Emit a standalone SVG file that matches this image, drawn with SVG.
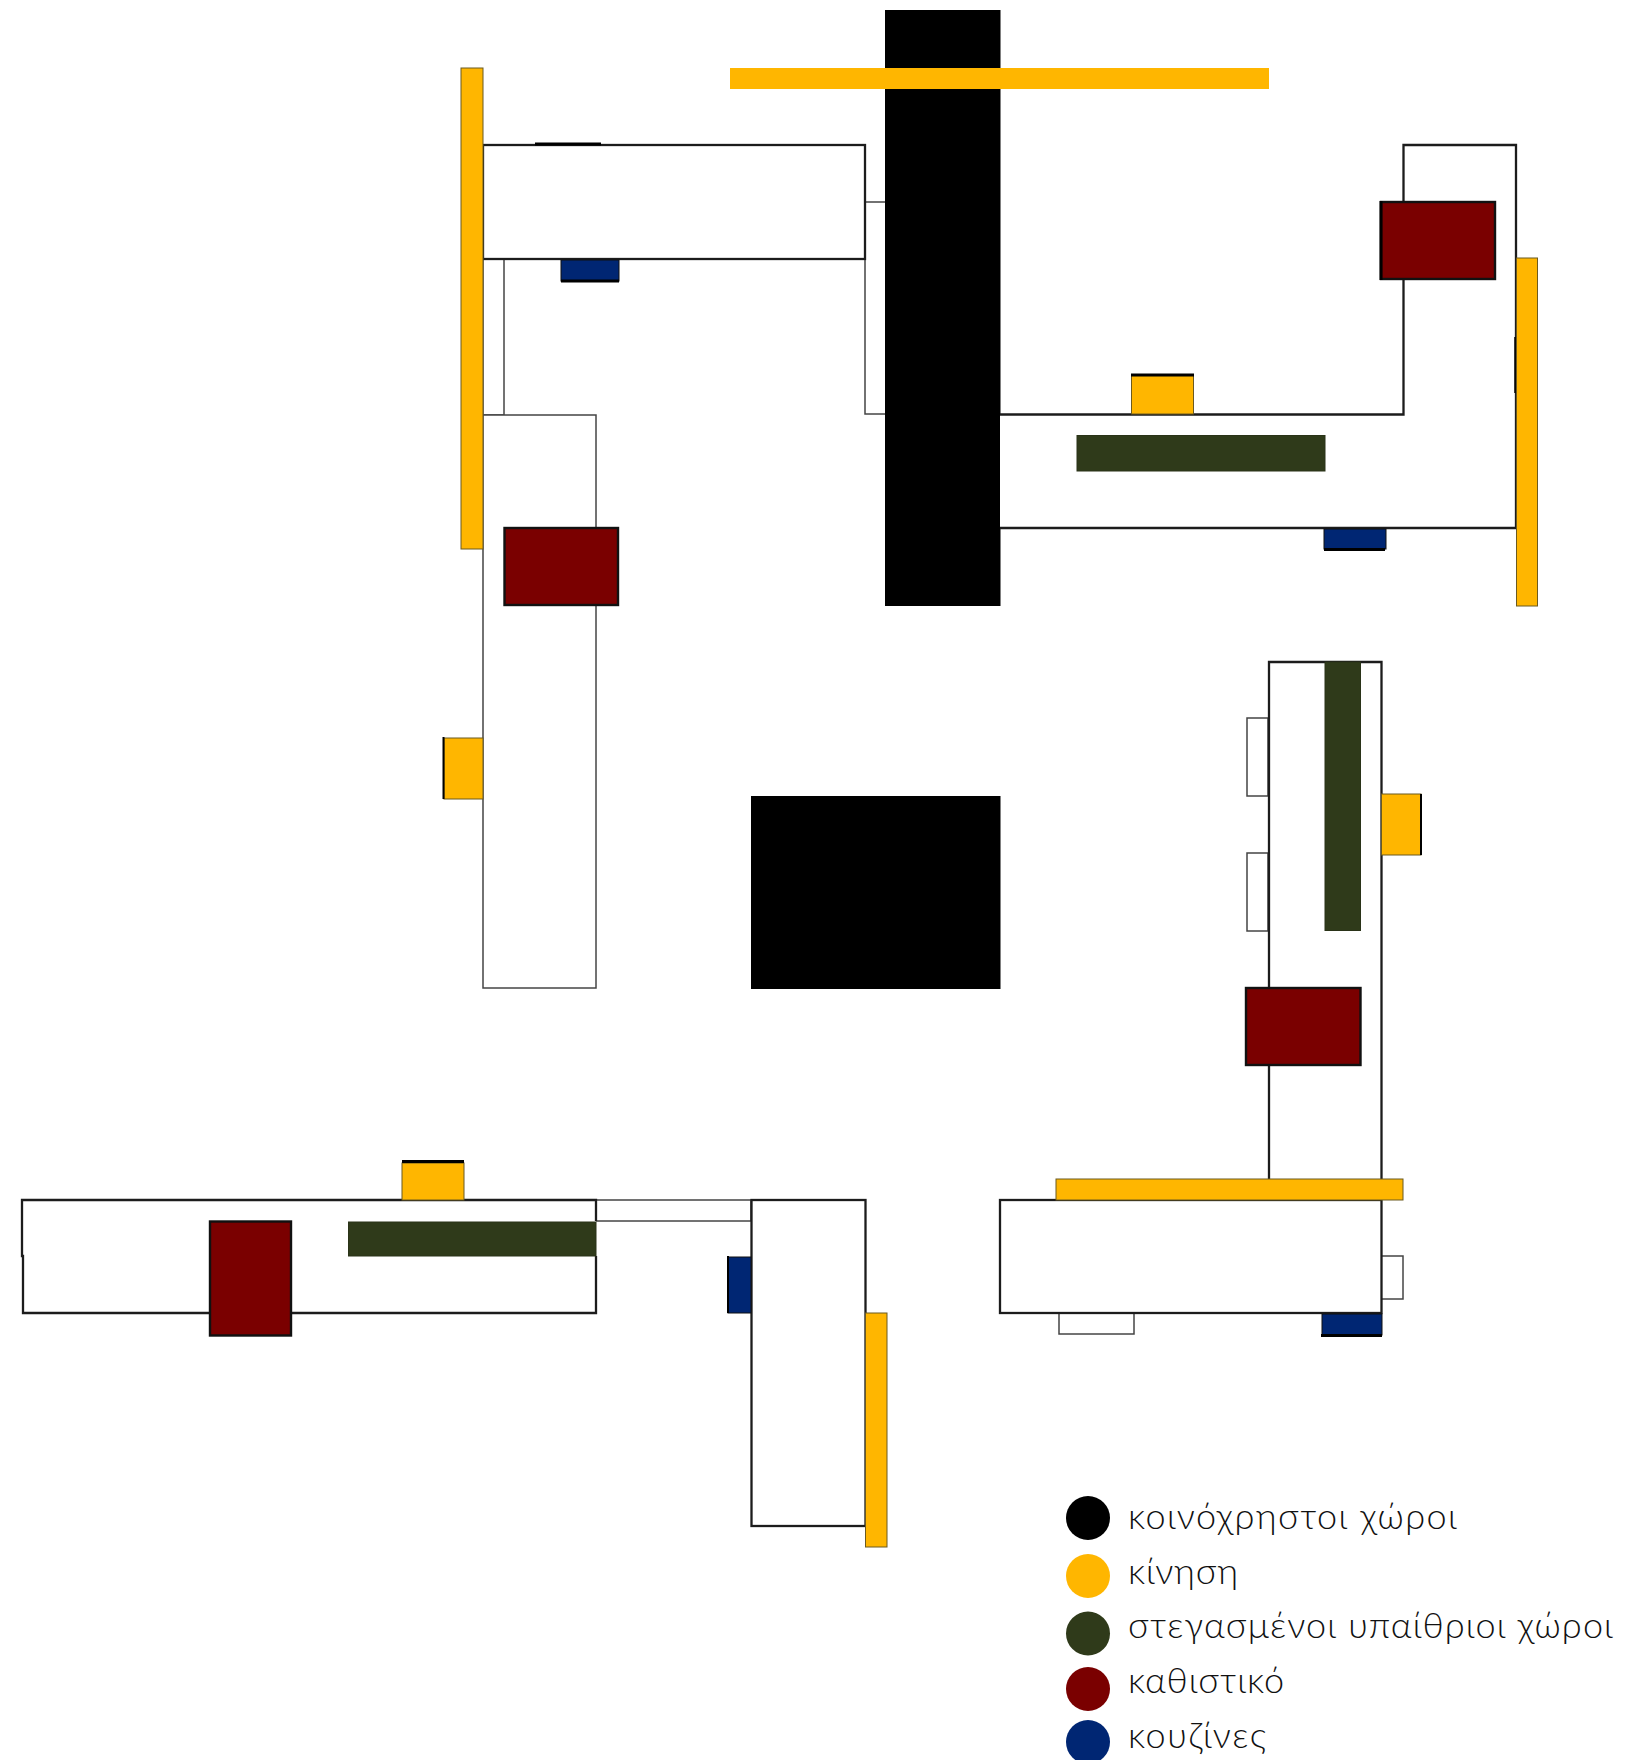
<svg xmlns="http://www.w3.org/2000/svg" width="1649" height="1760" viewBox="0 0 1649 1760">
<style>
.room{fill:#fff;stroke:#1c1c1c;stroke-width:2.3}
.win{fill:#fff;stroke:#444;stroke-width:1.5}
.or{fill:#ffb600;stroke:#6b5a20;stroke-width:1}
.gr{fill:#2f3a1a;stroke:#2a3318;stroke-width:1}
.rd{fill:#7a0000;stroke:#111;stroke-width:2.4}
.bl{fill:#002673;stroke:#111;stroke-width:1}
.bk{fill:#000}
.e{stroke:#000;stroke-width:3;fill:none}
.t{font-family:"Lato","Open Sans","Noto Sans",sans-serif;font-weight:300;font-size:36px;fill:#111}
</style>
<rect width="1649" height="1760" fill="#fff"/>
<g id="bloc-nw">
<rect class="win" x="483" y="259" width="21" height="156"/>
<rect class="win" x="865" y="202" width="21" height="212"/>
<rect class="room" x="483" y="145" width="382" height="114"/>
<rect class="win" x="483" y="415" width="113" height="573"/>
<path class="e" d="M535 144H601"/>
<rect id="nw-kitchen" class="bl" x="561" y="260" width="58" height="21"/><path class="e" d="M561 281H619"/>
<rect id="nw-stair" class="or" x="461" y="68" width="22" height="481"/>
<rect id="nw-living" class="rd" x="504.500" y="528" width="113.500" height="77"/>
<rect id="nw-entry" class="or" x="444" y="738" width="39" height="61"/><path class="e" style="stroke-width:2" d="M443.500 737V799"/>
</g>
<g id="core-n"><rect class="bk" x="885" y="10" width="115.500" height="596"/></g>
<g id="top-bar"><rect x="730" y="68" width="539" height="21" fill="#ffb600"/></g>
<g id="core-c"><rect class="bk" x="751" y="796" width="249.500" height="193"/></g>
<g id="bloc-ne">
<path class="room" d="M1000 414.500H1403.500V145H1516V528H1000"/>
<rect id="ne-entry" class="or" x="1131.500" y="375" width="62" height="39"/><path class="e" d="M1131 375H1194"/>
<rect id="ne-terrace" class="gr" x="1077" y="435.500" width="248" height="35.500"/>
<rect id="ne-kitchen" class="bl" x="1324" y="529" width="62" height="20"/><path class="e" d="M1324 549.500H1385"/>
<rect id="ne-living" class="rd" x="1381" y="202" width="114" height="77"/><path class="e" d="M1381 201V280"/>
<path class="e" style="stroke-width:1.500" d="M1515 337V393"/>
<rect id="ne-stair" class="or" x="1516.500" y="258" width="21" height="348"/>
</g>
<g id="bloc-se">
<rect class="win" x="1247" y="718" width="21" height="78"/>
<rect class="win" x="1247" y="853" width="21" height="78"/>
<path class="room" d="M1269 1179V662H1381.500V1179"/>
<rect id="se-terrace" class="gr" x="1325" y="662" width="35.500" height="268.500"/>
<rect id="se-entry" class="or" x="1381.500" y="794" width="39.500" height="61"/><path class="e" style="stroke-width:2" d="M1421 794V855"/>
<rect id="se-living" class="rd" x="1246" y="988" width="114.500" height="77"/>
<rect class="win" x="1381" y="1256" width="22" height="43"/>
<rect class="win" x="1059" y="1313" width="75" height="21"/>
<rect class="room" x="1000" y="1200" width="381.500" height="113"/>
<rect id="se-kitchen" class="bl" x="1322" y="1314" width="60" height="21"/><path class="e" d="M1321 1335.500H1382"/>
<rect id="se-stair" class="or" x="1056" y="1179" width="347" height="21"/>
</g>
<g id="bloc-sw">
<rect class="win" x="596" y="1200" width="155" height="21"/>
<path class="room" d="M596 1256V1313H23V1256H22V1200H596V1221"/>
<rect id="sw-entry" class="or" x="402" y="1163" width="62" height="37"/><path class="e" d="M402 1161.500H464"/>
<rect id="sw-living" class="rd" x="210" y="1221.500" width="81" height="114"/>
<rect id="sw-terrace" class="gr" x="348.500" y="1222" width="247.500" height="34"/>
<rect class="room" x="751.500" y="1200" width="114" height="326"/>
<rect id="sw-kitchen" class="bl" x="728" y="1257" width="23" height="56"/><path class="e" style="stroke-width:2" d="M728 1256V1313"/>
<rect id="sw-stair" class="or" x="865.500" y="1313" width="21.500" height="234"/>
</g>
<g id="legend">
<circle cx="1088" cy="1518" r="22" fill="#000"/><text class="t" x="1128" y="1529" textLength="329">κοινόχρηστοι χώροι</text>
<circle cx="1088" cy="1576" r="22" fill="#ffb600"/><text class="t" x="1128" y="1584" textLength="110">κίνηση</text>
<circle cx="1088" cy="1633.500" r="22" fill="#2f3a1a"/><text class="t" x="1128" y="1638" textLength="485">στεγασμένοι υπαίθριοι χώροι</text>
<circle cx="1088" cy="1689" r="22" fill="#7a0000"/><text class="t" x="1128" y="1693" textLength="156">καθιστικό</text>
<circle cx="1088" cy="1742" r="22" fill="#002673"/><text class="t" x="1128" y="1748" textLength="138">κουζίνες</text>
</g>
</svg>
